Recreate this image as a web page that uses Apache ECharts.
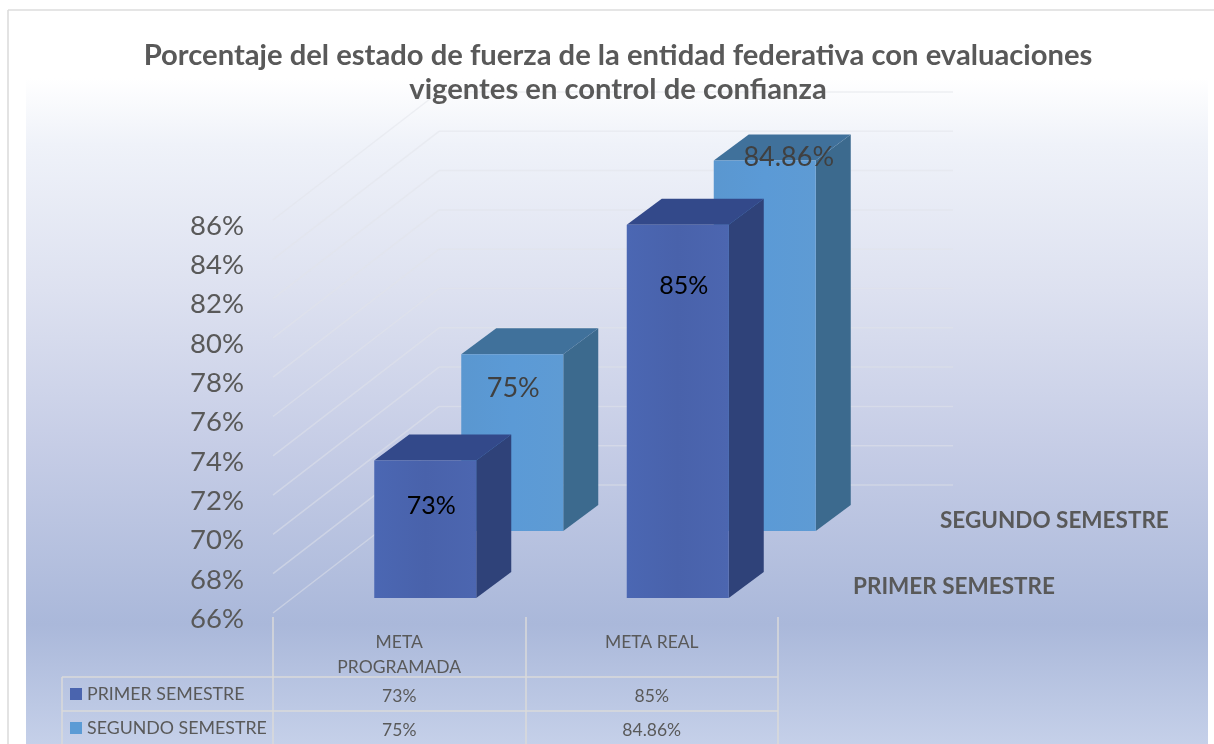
<!DOCTYPE html>
<html><head><meta charset="utf-8">
<style>html,body{margin:0;padding:0;background:#fff}#c{width:1214px;height:744px}</style>
<script src="https://cdn.jsdelivr.net/npm/echarts@6/dist/echarts.min.js"></script>
</head><body><div id="c"></div>
<script>
var categories = ['META\nPROGRAMADA', 'META REAL'];
var primerSemestre = [73, 85];
var segundoSemestre = [75, 84.86];
var seriesNames = ['PRIMER SEMESTRE', 'SEGUNDO SEMESTRE'];
var yTicks = [66, 68, 70, 72, 74, 76, 78, 80, 82, 84, 86];
var titleText = 'Porcentaje del estado de fuerza de la entidad federativa con evaluaciones\nvigentes en control de confianza';

var FONT = 'Lato, "Open Sans", sans-serif';
var TEXT = '#595959';
var DEPTH = [35, -26];
var BAR_W = 102;

function fmt(v) { return v + '%'; }

function barRender(cfg) {
  return function (params, api) {
    var i = api.value(0), v = api.value(1);
    var top = api.coord([i, v]), base = api.coord([i, 66]);
    var x0 = top[0] + cfg.dx, x1 = x0 + BAR_W;
    var yt = top[1] + cfg.dy, yb = base[1] + cfg.dy;
    var ddx = DEPTH[0], ddy = DEPTH[1];
    var lab = cfg.labelOffset[i];
    return { type: 'group', children: [
      { type: 'polygon', shape: { points: [[x1, yt], [x1 + ddx, yt + ddy], [x1 + ddx, yb + ddy], [x1, yb]] },
        style: { fill: cfg.side } },
      { type: 'polygon', shape: { points: [[x0, yt], [x0 + ddx, yt + ddy], [x1 + ddx, yt + ddy], [x1, yt]] },
        style: { fill: cfg.topFace } },
      { type: 'rect', shape: { x: x0, y: yt, width: BAR_W, height: yb - yt },
        style: { fill: { type: 'linear', x: 0, y: 0, x2: 1, y2: 0, colorStops: cfg.front } } },
      { type: 'text', z2: 10, style: { text: fmt(v), x: x0 + BAR_W / 2 + lab[0], y: yt + lab[1],
        fill: cfg.labelColor, font: lab[2] + 'px ' + FONT, align: 'center', verticalAlign: 'middle' } },
      { type: 'text', z2: 10, style: { text: fmt(v), x: top[0], y: cfg.tableY,
        fill: TEXT, font: '17.5px ' + FONT, align: 'center', verticalAlign: 'middle' } }
    ] };
  };
}

var frontCfg = {
  dx: -25, dy: -21, tableY: 696, labelColor: '#000', labelOffset: [[6, 45, 25], [6, 61, 25]],
  side: '#2f4279', topFace: '#33498a',
  front: [{ offset: 0, color: '#4b67b3' }, { offset: 0.5, color: '#4962ab' }, { offset: 1, color: '#4c66b0' }]
};
var backCfg = {
  dx: 62, dy: -88, tableY: 730, labelColor: '#404040', labelOffset: [[1, 34, 27], [24, -3, 27]],
  side: '#3c6a8e', topFace: '#40719b',
  front: [{ offset: 0, color: '#5a97d0' }, { offset: 0.5, color: '#5b9ad6' }, { offset: 1, color: '#5e9bd4' }]
};

var WALL = { sx: 273, bx: 439, ex: 953, startUp: 6, backUp: 134 };
function wallRender(params, api) {
  var y = api.coord([0, api.value(1)])[1];
  var ls = { stroke: 'rgba(226,228,234,0.5)', lineWidth: 1.5 };
  return { type: 'group', children: [
    { type: 'line', shape: { x1: WALL.sx, y1: y - WALL.startUp, x2: WALL.bx, y2: y - WALL.backUp }, style: ls },
    { type: 'line', shape: { x1: WALL.bx, y1: y - WALL.backUp, x2: WALL.ex, y2: y - WALL.backUp }, style: ls }
  ] };
}

var TL = '#dadada';
function hline(x1, x2, y, c) { return { type: 'line', z: 1, silent: true, shape: { x1: x1, y1: y, x2: x2, y2: y }, style: { stroke: c || TL, lineWidth: 1.5 } }; }
function vline(x, y1, y2) { return { type: 'line', z: 1, silent: true, shape: { x1: x, y1: y1, x2: x, y2: y2 }, style: { stroke: TL, lineWidth: 1.5 } }; }
function label(t, x, y, size, weight) { return { type: 'text', z: 5, silent: true, style: { text: t, x: x, y: y, fill: TEXT, font: (weight || 'normal') + ' ' + size + 'px ' + FONT, verticalAlign: 'middle' } }; }

var chart = echarts.init(document.getElementById('c'), null, { renderer: 'canvas' });
chart.setOption({
  animation: false,
  backgroundColor: '#fff',
  title: { text: titleText, left: 613, top: 34, textAlign: 'center',
    textStyle: { fontFamily: FONT, fontSize: 29.2, fontWeight: 'bold', color: TEXT, lineHeight: 34, align: 'center' } },
  grid: { left: 273, right: 436, top: 226, height: 393, containLabel: false },
  xAxis: { type: 'category', data: categories, axisLine: { show: false }, axisTick: { show: false }, splitLine: { show: false },
    axisLabel: { interval: 0, margin: 11, color: TEXT, fontFamily: FONT, fontSize: 17.5, lineHeight: 25, verticalAlign: 'top' } },
  yAxis: { type: 'value', min: yTicks[0], max: yTicks[yTicks.length - 1], interval: 2, axisLine: { show: false }, axisTick: { show: false }, splitLine: { show: false },
    axisLabel: { margin: 29, color: TEXT, fontFamily: FONT, fontSize: 27.5, formatter: '{value}%' } },
  graphic: { elements: [
    { type: 'rect', z: -10, silent: true, shape: { x: 26, y: 78, width: 1182, height: 666 },
      style: { fill: { type: 'linear', x: 0, y: 0, x2: 0, y2: 1, colorStops: [
        { offset: 0, color: '#ffffff' }, { offset: 0.1, color: '#eff2f9' }, { offset: 0.32, color: '#dde1f0' },
        { offset: 0.55, color: '#c6cde6' }, { offset: 0.82, color: '#aab8da' }, { offset: 1, color: '#c5d0e9' }] } } },
    hline(8, 1214, 10, '#dcdcdc'), vline(8, 10, 744),
    vline(273, 617, 744), vline(526, 617, 744), vline(778, 617, 744), vline(62, 677, 744),
    hline(62, 778, 677), hline(62, 778, 711),
    { type: 'rect', z: 5, silent: true, shape: { x: 70, y: 688, width: 12, height: 12 }, style: { fill: '#4a64ae' } },
    { type: 'rect', z: 5, silent: true, shape: { x: 70, y: 722, width: 12, height: 12 }, style: { fill: '#5b9bd5' } },
    label(seriesNames[0], 87, 694, 17.8), label(seriesNames[1], 87, 728, 17.8),
    label(seriesNames[1], 940, 521, 22.5, 'bold'), label(seriesNames[0], 853, 587, 22.5, 'bold')
  ] },
  series: [
    { type: 'custom', name: 'walls', coordinateSystem: 'cartesian2d', clip: false, silent: true, z: 1,
      renderItem: wallRender, data: yTicks.map(function (t) { return [0, t]; }) },
    { type: 'custom', name: seriesNames[1], coordinateSystem: 'cartesian2d', clip: false, silent: true, z: 2,
      renderItem: barRender(backCfg), data: segundoSemestre.map(function (v, i) { return [i, v]; }) },
    { type: 'custom', name: seriesNames[0], coordinateSystem: 'cartesian2d', clip: false, silent: true, z: 3,
      renderItem: barRender(frontCfg), data: primerSemestre.map(function (v, i) { return [i, v]; }) }
  ]
});
</script></body></html>
